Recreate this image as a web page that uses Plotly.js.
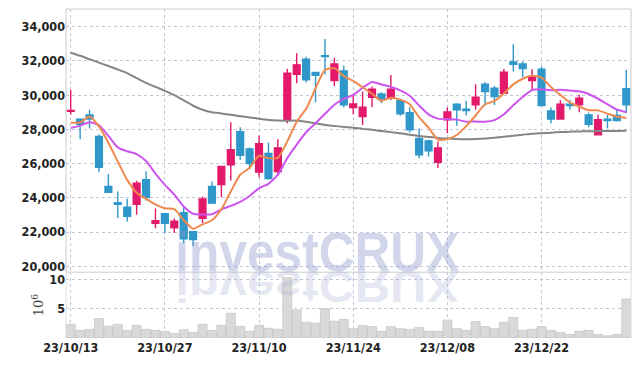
<!DOCTYPE html>
<html>
<head>
<meta charset="utf-8">
<script src="https://cdn.plot.ly/plotly-3.0.1.min.js"></script>
<style>
  html, body { margin: 0; padding: 0; background: #fff; }
  #chart { width: 639px; height: 366px; }
</style>
</head>
<body>
<div id="chart"></div>
<script>
const dates = ['23/10/13','23/10/16','23/10/17','23/10/18','23/10/19','23/10/20','23/10/23','23/10/24','23/10/25','23/10/26',
  '23/10/27','23/10/30','23/10/31','23/11/01','23/11/02','23/11/03','23/11/06','23/11/07','23/11/08','23/11/09',
  '23/11/10','23/11/13','23/11/14','23/11/15','23/11/16','23/11/17','23/11/20','23/11/21','23/11/22','23/11/23',
  '23/11/24','23/11/27','23/11/28','23/11/29','23/11/30','23/12/01','23/12/04','23/12/05','23/12/06','23/12/07',
  '23/12/08','23/12/11','23/12/12','23/12/13','23/12/14','23/12/15','23/12/18','23/12/19','23/12/20','23/12/21',
  '23/12/22','23/12/26','23/12/27','23/12/28','24/01/02','24/01/03','24/01/04','24/01/05','24/01/08','24/01/09'];

const openP  = [29050,28600,28850,27580,24670,23710,23460,23620,25060,22510,
  23070,22250,23130,22020,22800,24670,24780,25930,27860,26860,
  25500,26590,25540,28560,31220,32100,31320,32310,30850,31420,
  29280,28750,29880,30070,29820,29670,28980,27470,27330,26070,
  28560,29470,29180,29430,30640,30400,30110,31940,31820,30850,
  31510,29080,28600,29470,29430,28850,27680,28600,28810,30370];
const highP  = [30300,28650,29150,27720,25390,24370,23950,25000,25540,23380,
  23110,22800,23500,22060,24080,24960,25870,28420,28130,26940,
  27640,27230,27430,31550,32450,32250,31360,33280,32190,31730,
  30020,30210,30500,30170,31180,29720,29300,28050,27390,27290,
  29300,29530,29670,30640,30750,30540,31530,32970,31960,31510,
  31670,29280,29720,29720,30020,28980,28850,28850,29180,31470];
const lowP   = [28850,27430,28050,25500,24300,22820,22620,23010,23850,22220,
  21940,21940,21360,21170,22530,23650,24040,25020,26220,25680,
  25210,25060,25290,28360,30700,30740,29590,31200,30540,29300,
  28890,28260,29300,29530,29720,28790,27820,26320,26420,25740,
  27780,28210,28810,29140,29370,29430,30070,31380,31050,30270,
  29390,28360,28600,29140,29000,28130,27640,28070,28460,28950];
const closeP = [29100,28300,28600,25780,24320,23620,22920,24860,24020,22660,
  22510,22640,21610,21570,23930,23690,25830,26810,26480,26010,
  27160,25130,26920,31280,31770,30890,31160,32250,31820,29430,
  29490,29300,30350,29780,30350,28910,27970,26510,26750,26920,
  29020,29140,29100,29880,30210,29920,31340,31800,31550,31050,
  29390,28600,29470,29390,29820,28300,28560,28520,28520,29430];

const ma5  = [28400,28400,28750,28170,27220,26120,25050,24300,23950,23620,
  23390,23340,22690,22200,22450,22690,23330,24370,25350,25760,
  26460,26320,26340,27300,28450,29200,30400,31470,31580,31110,
  30830,30460,30080,29670,29850,29740,29470,28700,28100,27410,
  27430,27670,28190,28810,29470,29650,30090,30630,30960,31130,
  31030,30480,30010,29580,29330,29120,29110,28920,28740,28670];
const ma10 = [28080,28220,28420,28240,27620,26950,26720,26560,26150,25420,
  24760,24190,23490,23070,23030,23040,23330,23530,23770,24110,
  24570,24820,25350,26320,27110,27830,28360,28910,29440,29780,
  30010,30430,30770,30620,30480,30280,29970,29390,28880,28630,
  28590,28570,28450,28460,28440,28540,28880,29410,29890,30300,
  30340,30280,30320,30270,30230,30070,29790,29470,29160,29000];
const ma60 = [32480,32300,32100,31900,31700,31500,31290,31000,30720,30480,
  30250,30000,29700,29380,29150,29000,28930,28850,28770,28700,
  28620,28550,28520,28510,28510,28450,28360,28260,28200,28140,
  28100,28030,27980,27900,27840,27780,27690,27620,27560,27500,
  27460,27440,27430,27440,27460,27510,27570,27630,27690,27750,
  27780,27810,27840,27860,27880,27890,27900,27905,27910,27915];

const volume = [2.34,1.30,1.48,3.33,2.00,2.34,1.30,2.17,1.48,1.30,
  1.13,0.78,1.42,0.95,2.34,1.30,2.17,4.20,2.00,1.13,
  2.17,1.65,1.48,10.27,4.77,2.69,2.52,5.00,2.86,3.15,
  1.59,2.11,1.94,1.13,1.94,1.59,1.48,1.77,1.13,1.13,
  3.04,1.59,1.30,2.81,1.94,1.59,2.69,3.50,1.30,1.48,
  1.94,1.30,0.95,0.61,1.13,1.30,0.61,0.38,0.61,6.63];

const priceTicks = [20000,22000,24000,26000,28000,30000,32000,34000];
const volTicks = [5,10];
const dateTicks = dates.filter((d, i) => i % 10 === 0);

const UP = '#e3196b', DOWN = '#2f97c9';
const tickFont = {family: '"DejaVu Sans Condensed", "Liberation Sans", sans-serif', size: 12.5, color: '#222', weight: 600};
const gridCol = '#c3c4d8';

const traces = [
  {type: 'candlestick', x: dates, open: openP, high: highP, low: lowP, close: closeP,
   xaxis: 'x', yaxis: 'y', whiskerwidth: 0,
   increasing: {line: {color: UP, width: 1.4}, fillcolor: UP},
   decreasing: {line: {color: DOWN, width: 1.4}, fillcolor: DOWN},
   hoverinfo: 'skip'},
  {type: 'scatter', mode: 'lines', x: dates, y: ma60, xaxis: 'x', yaxis: 'y',
   line: {color: '#858585', width: 2, shape: 'spline', smoothing: 0.6}, hoverinfo: 'skip'},
  {type: 'scatter', mode: 'lines', x: dates, y: ma10, xaxis: 'x', yaxis: 'y',
   line: {color: '#cc55ee', width: 2, shape: 'spline', smoothing: 0.6}, hoverinfo: 'skip'},
  {type: 'scatter', mode: 'lines', x: dates, y: ma5, xaxis: 'x', yaxis: 'y',
   line: {color: '#ef8a4e', width: 2, shape: 'spline', smoothing: 0.6}, hoverinfo: 'skip'},
  {type: 'bar', x: dates, y: volume, xaxis: 'x', yaxis: 'y2',
   marker: {color: '#d9d9d9', line: {color: '#bdbdbd', width: 0.6}}, hoverinfo: 'skip'}
];

const wmFont = {family: '"Liberation Sans", Arial, sans-serif', size: 56, weight: 700};
const WM_WIDTH = 284;

const layout = {
  width: 639, height: 366,
  margin: {l: 66, r: 8, t: 9, b: 28},
  paper_bgcolor: '#ffffff', plot_bgcolor: '#ffffff',
  showlegend: false, bargap: 0.04, boxgap: 0.28, boxgroupgap: 0,
  xaxis: {type: 'category', anchor: 'y2', range: [-0.5, 59.5], tickmode: 'array', tickvals: dateTicks, ticktext: dateTicks,
          ticks: '', showgrid: true, gridcolor: gridCol, griddash: 'dot', gridwidth: 1,
          tickfont: tickFont, rangeslider: {visible: false}, showline: false, zeroline: false, fixedrange: true},
  yaxis: {domain: [0.2, 1], range: [19655, 35034], tickmode: 'array', tickvals: priceTicks, tickformat: ',d',
          ticks: '', showgrid: true, gridcolor: gridCol, griddash: 'dot', tickfont: tickFont, zeroline: false, showline: false, fixedrange: true},
  yaxis2: {domain: [0, 0.2], range: [0, 11.2], tickmode: 'array', tickvals: volTicks, ticks: '',
           showgrid: true, gridcolor: gridCol, griddash: 'dot', tickfont: tickFont, zeroline: false, showline: false,
           title: {text: '10<sup>6</sup>', font: {family: '"DejaVu Serif", serif', size: 13, color: '#444'}, standoff: 2}, fixedrange: true},
  shapes: [
    {type: 'rect', xref: 'paper', yref: 'paper', x0: 0, x1: 1, y0: 0.2, y1: 1, line: {color: '#cccccc', width: 1}},
    {type: 'line', xref: 'paper', yref: 'paper', x0: 0, x1: 0, y0: 0, y1: 0.2, line: {color: '#dddddd', width: 1}},
    {type: 'line', xref: 'paper', yref: 'paper', x0: 1, x1: 1, y0: 0, y1: 0.2, line: {color: '#dddddd', width: 1}}
  ],
  annotations: [
    {text: 'investCRUX', xref: 'paper', yref: 'paper', x: 0.446, y: 0.2, xanchor: 'center', yanchor: 'bottom', yshift: -13,
     showarrow: false, font: Object.assign({color: 'rgba(145,158,208,0.42)'}, wmFont)},
    {text: 'investCRUX', xref: 'paper', yref: 'paper', x: 0.446, y: 0.2, xanchor: 'center', yanchor: 'bottom', yshift: -13,
     showarrow: false, font: Object.assign({color: 'rgba(165,172,210,0.3)'}, wmFont)}
  ]
};

Plotly.newPlot('chart', traces, layout, {displayModeBar: false, staticPlot: true}).then(function () {
  const anns = document.querySelectorAll('#chart .annotation');
  if (anns.length < 2) return;
  const mainText = anns[0].querySelector('text');
  const r = mainText.getBoundingClientRect();
  const baseline = r.bottom - 0.212 * wmFont.size;
  const cx = (r.left + r.right) / 2;
  const sx = Math.min(1, WM_WIDTH / r.width);
  const s = 0.8;
  anns[0].setAttribute('transform', 'translate(' + (cx * (1 - sx)) + ',0) scale(' + sx + ',1)');
  anns[1].setAttribute('transform', 'translate(' + (cx * (1 - sx)) + ',' + (baseline * (1 + s)) + ') scale(' + sx + ',' + (-s) + ')');
});
</script>
</body>
</html>
